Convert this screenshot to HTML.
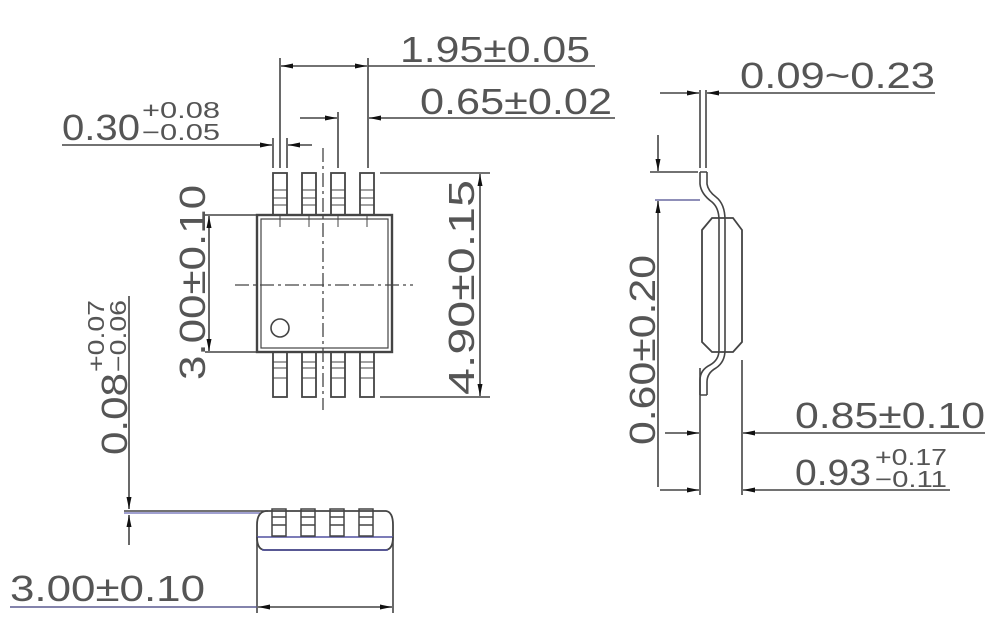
<!DOCTYPE html>
<html><head><meta charset="utf-8"><style>
html,body{margin:0;padding:0;background:#fff}
svg{display:block}
text{font-family:"Liberation Sans",sans-serif;fill:#555;font-weight:normal}
</style></head><body>
<svg width="1000" height="618" viewBox="0 0 1000 618" xmlns="http://www.w3.org/2000/svg">
<defs>
<marker id="a" markerWidth="12" markerHeight="6" refX="12" refY="3" orient="auto" markerUnits="userSpaceOnUse"><path d="M0,0.5 L12,3 L0,5.5z" fill="#111"/></marker>
</defs>
<g stroke="#444" stroke-width="1.6" fill="none">
<line x1="280" y1="58" x2="280" y2="168"/>
<line x1="368" y1="58" x2="368" y2="168"/>
<line x1="320" y1="66" x2="281" y2="66" marker-end="url(#a)"/>
<line x1="320" y1="66" x2="367" y2="66" marker-end="url(#a)"/>
<line x1="368" y1="66" x2="595" y2="66"/>
<line x1="338" y1="112" x2="338" y2="168"/>
<line x1="300" y1="118" x2="337" y2="118" marker-end="url(#a)"/>
<line x1="615" y1="118" x2="369" y2="118" marker-end="url(#a)"/>
<line x1="273" y1="138" x2="273" y2="168"/>
<line x1="287" y1="138" x2="287" y2="168"/>
<line x1="62" y1="145" x2="272" y2="145" marker-end="url(#a)"/>
<line x1="312" y1="145" x2="288" y2="145" marker-end="url(#a)"/>
<rect x="257" y="215" width="135" height="137" stroke-width="2.4"/>
<rect x="261" y="219" width="127" height="129" stroke-width="1.2"/>
<circle cx="280" cy="328" r="9"/>
<g stroke-width="1.8">
<rect x="273" y="173" width="14" height="42"/><rect x="302" y="173" width="14" height="42"/><rect x="331" y="173" width="14" height="42"/><rect x="360" y="173" width="14" height="42"/>
<rect x="273" y="352" width="14" height="45"/><rect x="302" y="352" width="14" height="45"/><rect x="331" y="352" width="14" height="45"/><rect x="360" y="352" width="14" height="45"/>
</g>
<g stroke-width="1">
<path d="M273 190h14M273 198h14M273 205h14M302 190h14M302 198h14M302 205h14M331 190h14M331 198h14M331 205h14M360 190h14M360 198h14M360 205h14"/>
<path d="M273 362h14M273 368h14M273 378h14M302 362h14M302 368h14M302 378h14M331 362h14M331 368h14M331 378h14M360 362h14M360 368h14M360 378h14"/>
<path d="M280 215v12M309 215v12M338 215v12M367 215v12"/>
</g>
<line x1="323" y1="148" x2="323" y2="410" stroke-dasharray="14,4,3,4" stroke-width="1.3"/>
<line x1="235" y1="285" x2="413" y2="285" stroke-dasharray="14,4,3,4" stroke-width="1.3"/>
<line x1="205" y1="215" x2="257" y2="215"/>
<line x1="205" y1="352" x2="257" y2="352"/>
<line x1="209" y1="285" x2="209" y2="216" marker-end="url(#a)"/>
<line x1="209" y1="285" x2="209" y2="351" marker-end="url(#a)"/>
<line x1="380" y1="173" x2="490" y2="173"/>
<line x1="380" y1="397" x2="490" y2="397"/>
<line x1="480" y1="285" x2="480" y2="174" marker-end="url(#a)"/>
<line x1="480" y1="285" x2="480" y2="396" marker-end="url(#a)"/>
<line x1="700" y1="90" x2="700" y2="168"/>
<line x1="706" y1="90" x2="706" y2="168"/>
<line x1="660" y1="93" x2="699" y2="93" marker-end="url(#a)"/>
<line x1="935" y1="93" x2="707" y2="93" marker-end="url(#a)"/>
<path d="M702 230 L712 218 L733 218 L742 230 L742 342 L733 352 L712 352 L702 342 Z" stroke-width="1.8"/>
<path d="M700 172 L700 184 Q701 194 712 202 Q719 208 719 220 L719 350 Q719 360 710 365 Q700 370 700 380 L700 395 M707 172 L707 184 Q708 191 716 197 Q725 204 725 220 L725 350 Q725 362 716 368 Q707 373 707 382 L707 395 M700 395 H707 M700 172 H707" stroke-width="1.6"/>
<line x1="650" y1="172" x2="698" y2="172"/>
<line x1="655" y1="200" x2="700" y2="200" stroke="#6a6aa0"/>
<line x1="658" y1="135" x2="658" y2="171" marker-end="url(#a)"/>
<line x1="658" y1="487" x2="658" y2="201" marker-end="url(#a)"/>
<line x1="700" y1="368" x2="700" y2="495"/>
<line x1="742" y1="360" x2="742" y2="495"/>
<line x1="665" y1="433" x2="699" y2="433" marker-end="url(#a)"/>
<line x1="985" y1="433" x2="743" y2="433" marker-end="url(#a)"/>
<line x1="660" y1="490" x2="699" y2="490" marker-end="url(#a)"/>
<line x1="950" y1="490" x2="743" y2="490" marker-end="url(#a)"/>
<line x1="129" y1="296" x2="129" y2="509" marker-end="url(#a)"/>
<line x1="129" y1="545" x2="129" y2="515" marker-end="url(#a)"/>
<line x1="124" y1="511" x2="268" y2="511"/>
<line x1="124" y1="513" x2="260" y2="513" stroke="#8080c0"/>
<path d="M257 525 Q257 512 266 511 L386 511 Q393 512 393 525 L393 537 Q393 549 386 550 L264 550 Q257 549 257 537 Z" stroke-width="1.8"/>
<line x1="257" y1="537" x2="393" y2="537" stroke="#5050a0"/>
<line x1="262" y1="550" x2="388" y2="550" stroke="#5050a0"/>
<g stroke-width="1.5">
<rect x="272" y="509" width="14" height="27"/><rect x="301" y="509" width="14" height="27"/><rect x="330" y="509" width="14" height="27"/><rect x="359" y="509" width="14" height="27"/>
<path d="M272 517h14M272 525h14M301 517h14M301 525h14M330 517h14M330 525h14M359 517h14M359 525h14"/>
</g>
<line x1="257" y1="537" x2="257" y2="613"/>
<line x1="393" y1="537" x2="393" y2="613"/>
<line x1="10" y1="607" x2="257" y2="607" stroke="#5a5a90"/>
<line x1="325" y1="607" x2="258" y2="607" marker-end="url(#a)"/>
<line x1="325" y1="607" x2="392" y2="607" marker-end="url(#a)"/>
</g>
<text x="400" y="62" font-size="36" textLength="190" lengthAdjust="spacingAndGlyphs">1.95±0.05</text>
<text x="420" y="114" font-size="36" textLength="192" lengthAdjust="spacingAndGlyphs">0.65±0.02</text>
<text x="62" y="140" font-size="36" textLength="78" lengthAdjust="spacingAndGlyphs">0.30</text>
<text x="142" y="118" font-size="23" textLength="78" lengthAdjust="spacingAndGlyphs">+0.08</text>
<text x="142" y="140" font-size="23" textLength="78" lengthAdjust="spacingAndGlyphs">−0.05</text>
<text x="740" y="88" font-size="36" textLength="195" lengthAdjust="spacingAndGlyphs">0.09~0.23</text>
<text x="795" y="428" font-size="36" textLength="190" lengthAdjust="spacingAndGlyphs">0.85±0.10</text>
<text x="795" y="485" font-size="36" textLength="76" lengthAdjust="spacingAndGlyphs">0.93</text>
<text x="875" y="465" font-size="23" textLength="72" lengthAdjust="spacingAndGlyphs">+0.17</text>
<text x="875" y="487" font-size="23" textLength="72" lengthAdjust="spacingAndGlyphs">−0.11</text>
<text x="10" y="601" font-size="36" textLength="195" lengthAdjust="spacingAndGlyphs">3.00±0.10</text>
<text transform="translate(205,380) rotate(-90)" font-size="36" textLength="195" lengthAdjust="spacingAndGlyphs">3.00±0.10</text>
<text transform="translate(474,395) rotate(-90)" font-size="36" textLength="215" lengthAdjust="spacingAndGlyphs">4.90±0.15</text>
<text transform="translate(655,445) rotate(-90)" font-size="36" textLength="190" lengthAdjust="spacingAndGlyphs">0.60±0.20</text>
<text transform="translate(127,455) rotate(-90)" font-size="36" textLength="82" lengthAdjust="spacingAndGlyphs">0.08</text>
<text transform="translate(104,372) rotate(-90)" font-size="23" textLength="72" lengthAdjust="spacingAndGlyphs">+0.07</text>
<text transform="translate(126,372) rotate(-90)" font-size="23" textLength="72" lengthAdjust="spacingAndGlyphs">−0.06</text>
</svg>
</body></html>
